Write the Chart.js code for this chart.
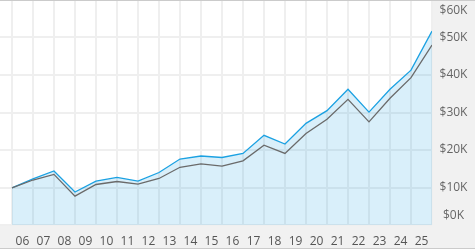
<!DOCTYPE html>
<html>
<head>
<meta charset="utf-8">
<script src="https://cdn.jsdelivr.net/npm/chart.js@4/dist/chart.umd.min.js"></script>
<style>
  html, body { margin: 0; padding: 0; background: #fff; }
  #wrap { width: 475px; height: 250px; position: relative; }
</style>
</head>
<body>
<div id="wrap"><canvas id="valueChart"></canvas></div>
<script>
// year labels sit between the yearly points
const yearLabels = ['06', '07', '08', '09', '10', '11', '12', '13', '14', '15',
                    '16', '17', '18', '19', '20', '21', '22', '23', '24', '25'];

// blue line (filled) and grey line, one point per year boundary
const totalValue = [9900, 12300, 14400, 8800, 11700, 12700, 11700, 14000, 17600, 18400,
                    18000, 19100, 23900, 21600, 27100, 30500, 36200, 30100, 36200, 41300, 51700];
const netValue = [9900, 12000, 13500, 7700, 10800, 11600, 10900, 12400, 15400, 16300,
                  15700, 17100, 21300, 19100, 24400, 28200, 33500, 27500, 33800, 39300, 48000];

const yTicks = [0, 10000, 20000, 30000, 40000, 50000, 60000];

const FONT = "'Open Sans', 'DejaVu Sans', sans-serif";

// grey panels behind the axes plus the thin frame lines
const panels = {
    id: 'panels',
    beforeDraw(chart) {
        const { ctx, chartArea: ca, width } = chart;
        ctx.save();
        ctx.fillStyle = '#fff';
        ctx.fillRect(0, 0, width, chart.height);
        ctx.fillStyle = '#f1f1f1';
        ctx.fillRect(ca.right, 0, width - ca.right, 248);
        ctx.fillRect(0, ca.bottom, ca.right, 248 - ca.bottom);
        ctx.restore();
    },
    afterDraw(chart) {
        const { ctx, width } = chart;
        ctx.save();
        ctx.strokeStyle = '#cbcbcb';
        ctx.lineWidth = 1;
        ctx.beginPath();
        ctx.moveTo(0, 0.5); ctx.lineTo(width, 0.5);
        ctx.moveTo(0, 248.5); ctx.lineTo(width, 248.5);
        ctx.stroke();
        ctx.restore();
    }
};

// y labels kept inside the plot height, like the original
const yLabels = {
    id: 'yLabels',
    afterDraw(chart) {
        const { ctx, chartArea: ca, width } = chart;
        const y = chart.scales.y;
        ctx.save();
        ctx.font = '12px ' + FONT;
        ctx.fillStyle = '#666';
        ctx.textAlign = 'center';
        ctx.textBaseline = 'middle';
        yTicks.forEach(v => {
            let py = y.getPixelForValue(v);
            py = Math.min(Math.max(py, ca.top + 11), ca.bottom - 9);
            ctx.fillText('$' + (v / 1000) + 'K', (ca.right + width) / 2, py);
        });
        ctx.restore();
    }
};

const ctx = document.getElementById('valueChart').getContext('2d');
new Chart(ctx, {
    type: 'line',
    data: {
        datasets: [
            {
                label: 'Total',
                data: totalValue.map((v, i) => ({ x: i, y: v })),
                borderColor: '#1ba1e2',
                backgroundColor: 'rgba(27, 161, 226, 0.17)',
                borderWidth: 1.3,
                fill: 'origin',
                pointRadius: 0,
                tension: 0,
                order: 2
            },
            {
                label: 'Net',
                data: netValue.map((v, i) => ({ x: i, y: v })),
                borderColor: '#6a6a6a',
                borderWidth: 1.3,
                fill: false,
                pointRadius: 0,
                tension: 0,
                order: 1
            }
        ]
    },
    plugins: [panels, yLabels],
    options: {
        responsive: true,
        maintainAspectRatio: false,
        animation: false,
        layout: { padding: { top: 0, left: 0, right: 0, bottom: 2 } },
        plugins: {
            legend: { display: false },
            tooltip: { enabled: false }
        },
        scales: {
            x: {
                type: 'linear',
                min: -0.57,
                max: totalValue.length - 1,
                afterBuildTicks: s => { s.ticks = totalValue.map((_, i) => ({ value: i })); },
                afterFit: s => { s.height = 0; },
                grid: { color: '#efefef', lineWidth: 2, drawTicks: false },
                border: { display: false },
                ticks: { display: false }
            },
            x2: {
                type: 'linear',
                position: 'bottom',
                min: -0.57,
                max: totalValue.length - 1,
                afterBuildTicks: s => { s.ticks = yearLabels.map((_, i) => ({ value: i + 0.5 })); },
                afterFit: s => { s.height = 23; s.paddingLeft = 0; s.paddingRight = 0; },
                grid: { display: false },
                border: { display: false },
                ticks: {
                    autoSkip: false,
                    maxRotation: 0,
                    padding: 1,
                    color: '#555',
                    font: { family: FONT, size: 12 },
                    callback: (value, index) => yearLabels[index]
                }
            },
            y: {
                position: 'right',
                min: 0,
                max: 60000,
                afterBuildTicks: s => { s.ticks = yTicks.map(v => ({ value: v })); },
                afterFit: s => { s.width = 43; s.paddingTop = 0; s.paddingBottom = 0; },
                grid: { color: '#efefef', lineWidth: 2, drawTicks: false },
                border: { display: false },
                ticks: { display: false }
            }
        }
    }
});
</script>
</body>
</html>
